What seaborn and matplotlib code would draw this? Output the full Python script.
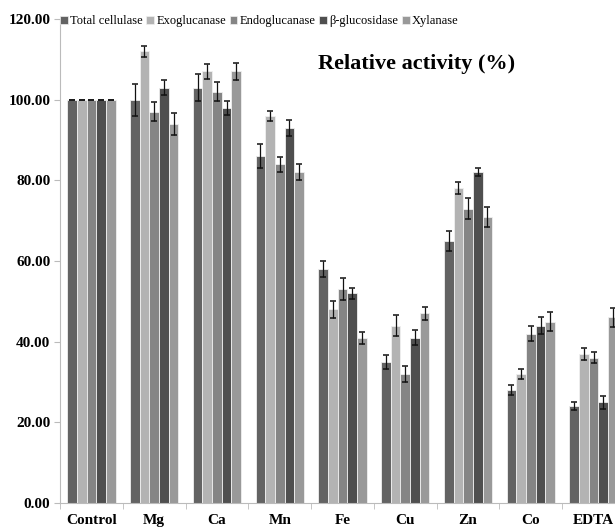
import numpy as np
import pandas as pd
import seaborn as sns
import matplotlib.pyplot as plt

treatments = ["Control", "Mg", "Ca", "Mn", "Fe", "Cu", "Zn", "Co", "EDTA"]
enzymes = ["Total cellulase", "Exoglucanase", "Endoglucanase", "\u03b2-glucosidase", "Xylanase"]

total_cellulase = [100, 100, 103, 86, 58, 35, 65, 28, 24]
exoglucanase = [100, 112, 107, 96, 48, 44, 78, 32, 37]
endoglucanase = [100, 97, 102, 84, 53, 32, 73, 42, 36]
beta_glucosidase = [100, 103, 98, 93, 52, 41, 82, 44, 25]
xylanase = [100, 94, 107, 82, 41, 47, 71, 45, 46]

total_cellulase_err = [0, 4.0, 3.4, 2.9, 1.9, 1.7, 2.5, 1.3, 1.0]
exoglucanase_err = [0, 1.3, 1.9, 1.2, 2.1, 2.7, 1.5, 1.3, 1.5]
endoglucanase_err = [0, 2.3, 2.3, 1.9, 2.7, 2.0, 2.5, 1.9, 1.4]
beta_glucosidase_err = [0, 1.9, 1.7, 2.0, 1.4, 1.9, 1.0, 2.0, 1.6]
xylanase_err = [0, 2.7, 2.1, 2.0, 1.5, 1.6, 2.5, 2.4, 2.4]

palette = ["#636363", "#b3b3b3", "#858585", "#4f4f4f", "#999999"]

values = [total_cellulase, exoglucanase, endoglucanase, beta_glucosidase, xylanase]
errors = [total_cellulase_err, exoglucanase_err, endoglucanase_err, beta_glucosidase_err, xylanase_err]

df = pd.DataFrame({
    "treatment": np.repeat([treatments], len(enzymes), axis=0).ravel(),
    "enzyme": np.repeat(enzymes, len(treatments)),
    "activity": np.concatenate(values),
    "err": np.concatenate(errors),
})

plt.rcParams["font.family"] = ["Liberation Serif", "DejaVu Serif"]

fig = plt.figure(figsize=(6.15, 5.31), dpi=100)
ax = fig.add_axes([60 / 615, 28 / 531, 565 / 615, 484 / 531])

sns.barplot(data=df, x="treatment", y="activity", hue="enzyme", order=treatments,
            hue_order=enzymes, palette=palette, width=0.77, gap=0, errorbar=None,
            edgecolor="#f0f0f0", linewidth=0.6, saturation=1, ax=ax, legend=False)

# error bars on top of each bar
for j, enz in enumerate(enzymes):
    cont = ax.containers[j]
    xs = [p.get_x() + p.get_width() / 2 for p in cont.patches]
    hs = [p.get_height() for p in cont.patches]
    ax.errorbar(xs, hs, yerr=errors[j], fmt="none", ecolor="#111111",
                elinewidth=0.9, capsize=2.5, capthick=1.1)

ax.set_xlim(-0.5, len(treatments) - 0.5)
ax.set_ylim(0, 120)
ax.set_yticks(np.arange(0, 121, 20))
ax.set_yticklabels([f"{v:.2f}" for v in np.arange(0, 121, 20)], fontweight="bold", fontsize=11)
ax.set_xticks(range(len(treatments)))
ax.set_xticklabels(treatments, fontweight="bold", fontsize=11)
ax.set_xticks(np.arange(-0.5, len(treatments), 1), minor=True)
ax.tick_params(axis="x", which="major", length=0, pad=8)
ax.tick_params(axis="x", which="minor", length=4, color="#bbbbbb")
ax.tick_params(axis="y", length=4, color="#bbbbbb", pad=3)
ax.set_xlabel("")
ax.set_ylabel("")
for side in ["top", "right"]:
    ax.spines[side].set_visible(False)
for side in ["left", "bottom"]:
    ax.spines[side].set_color("#bbbbbb")
    ax.spines[side].set_linewidth(0.8)

ax.text(318 / 615, 1 - 64 / 531, "Relative activity (%)", transform=fig.transFigure,
        fontsize=16, fontweight="bold", va="center", ha="left")

handles = [plt.Rectangle((0, 0), 1, 1, facecolor=c, edgecolor="#f0f0f0", linewidth=0.5) for c in palette]
fig.legend(handles, enzymes, loc="center left", bbox_to_anchor=(60 / 615, 1 - 21 / 531),
           ncol=5, frameon=False, fontsize=9, handlelength=0.6, handleheight=0.6,
           handletextpad=0.2, columnspacing=0.3, borderaxespad=0, borderpad=0)

fig.savefig("out.png", dpi=100)
